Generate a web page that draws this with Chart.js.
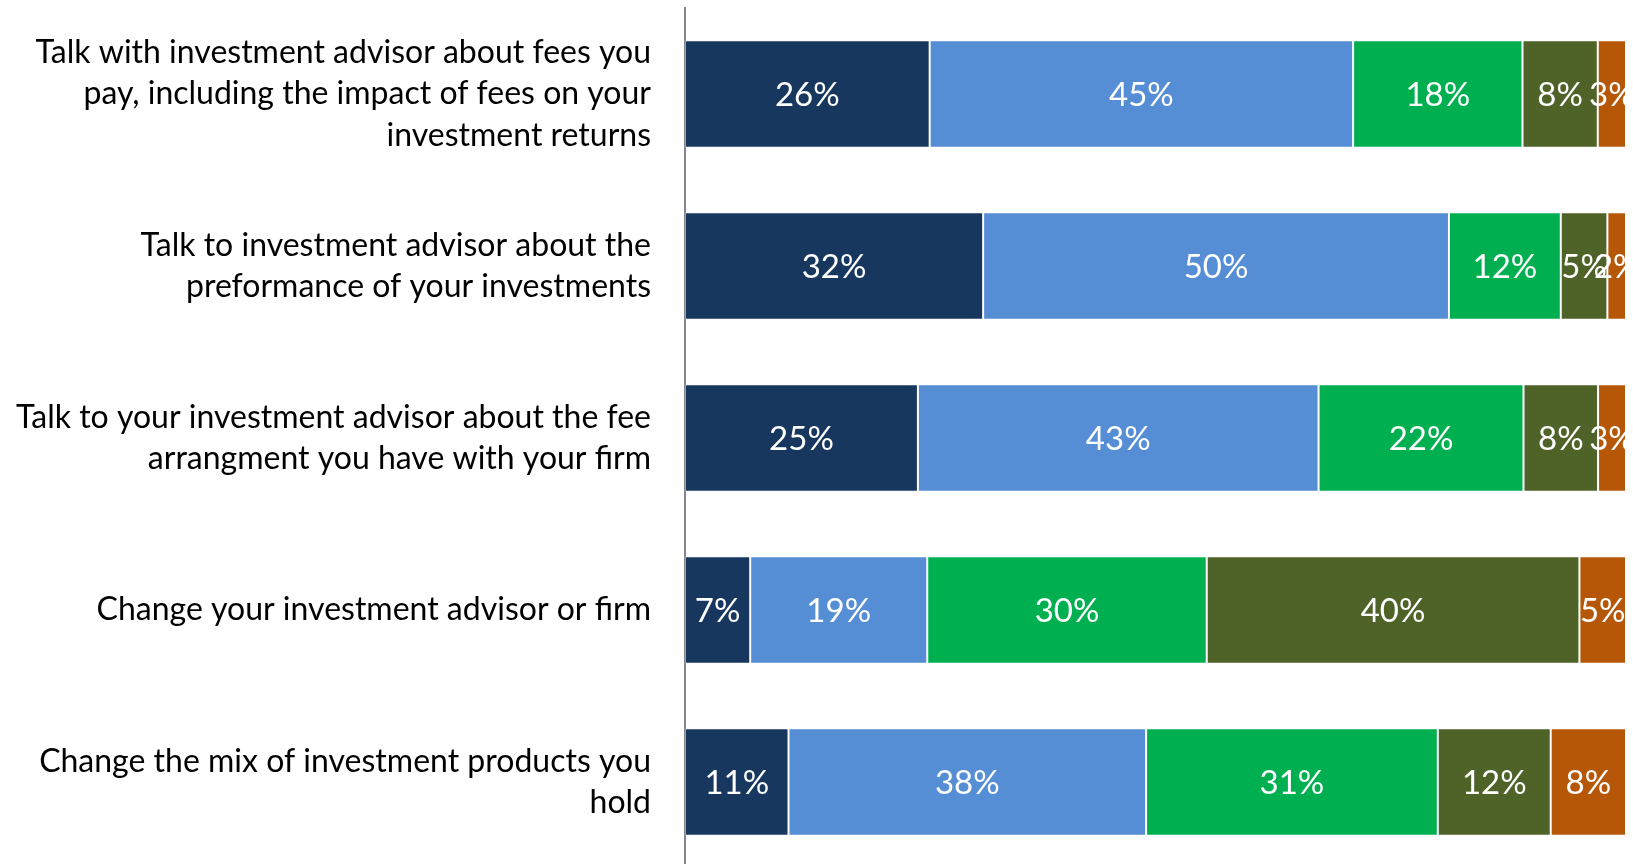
<!DOCTYPE html>
<html>
<head>
<meta charset="utf-8">
<script src="https://cdn.jsdelivr.net/npm/chart.js@4"></script>
<style>
  html, body { margin: 0; padding: 0; background: #fff; overflow: hidden; }
  #wrap { width: 1633px; height: 868px; position: relative; }
</style>
</head>
<body>
<div id="wrap"><canvas id="chart"></canvas></div>
<script>
// categorias (multilinea como en el original)
const categorias = [
    ['Talk with investment advisor about fees you', 'pay, including the impact of fees on your', 'investment returns'],
    ['Talk to investment advisor about the', 'preformance of your investments'],
    ['Talk to your investment advisor about the fee', 'arrangment you have with your firm'],
    'Change your investment advisor or firm',
    ['Change the mix of investment products you', 'hold']
];

// porcentajes, una lista por segmento
const serie1 = [26, 32, 25, 7, 11];
const serie2 = [45, 50, 43, 19, 38];
const serie3 = [18, 12, 22, 30, 31];
const serie4 = [8, 5, 8, 40, 12];
const serie5 = [3, 2, 3, 5, 8];

const nombresSeries = ['Serie 1', 'Serie 2', 'Serie 3', 'Serie 4', 'Serie 5'];
const colores = ['#17375e', '#558ed5', '#00b050', '#4f6228', '#b65708'];

const series = [serie1, serie2, serie3, serie4, serie5];

// barras al 100%: cada fila se normaliza con su total
const totales = categorias.map((_, i) => series.reduce((s, arr) => s + arr[i], 0));

const datasets = series.map((arr, k) => ({
    label: nombresSeries[k],
    data: arr.map((v, i) => v / totales[i] * 100),
    raw: arr,
    backgroundColor: colores[k],
    borderColor: 'rgba(255,255,255,0.25)',
    borderWidth: 1,
    borderSkipped: false,
    categoryPercentage: 1,
    barPercentage: 0.625
}));

// etiquetas blancas dentro de cada segmento
const etiquetasPlugin = {
    id: 'etiquetas',
    afterDatasetsDraw(chart) {
        const ctx = chart.ctx;
        ctx.save();
        ctx.fillStyle = '#ffffff';
        ctx.font = '33px Lato';
        ctx.textAlign = 'center';
        ctx.textBaseline = 'middle';
        chart.data.datasets.forEach((ds, k) => {
            const meta = chart.getDatasetMeta(k);
            meta.data.forEach((bar, i) => {
                const cx = (bar.x + bar.base) / 2;
                ctx.fillText(ds.raw[i] + '%', cx, bar.y + 1);
            });
        });
        ctx.restore();
    }
};

const ctx = document.getElementById('chart').getContext('2d');
new Chart(ctx, {
    type: 'bar',
    data: { labels: categorias, datasets },
    plugins: [etiquetasPlugin],
    options: {
        indexAxis: 'y',
        responsive: true,
        maintainAspectRatio: false,
        animation: false,
        layout: { padding: { top: 8, right: 7, bottom: 0, left: 0 } },
        scales: {
            x: {
                stacked: true,
                display: false,
                min: 0,
                max: 100
            },
            y: {
                stacked: true,
                grid: { display: false },
                border: { display: true, color: '#868686', width: 2 },
                ticks: {
                    color: '#000000',
                    font: { family: 'Lato', size: 32, lineHeight: 1.3 },
                    padding: 26,
                    autoSkip: false
                },
                afterFit: s => {
                    s.width = 685;
                    s.paddingTop = 0;
                    s.paddingBottom = 0;
                }
            }
        },
        plugins: {
            legend: { display: false },
            tooltip: { enabled: false }
        }
    }
});
</script>
</body>
</html>
